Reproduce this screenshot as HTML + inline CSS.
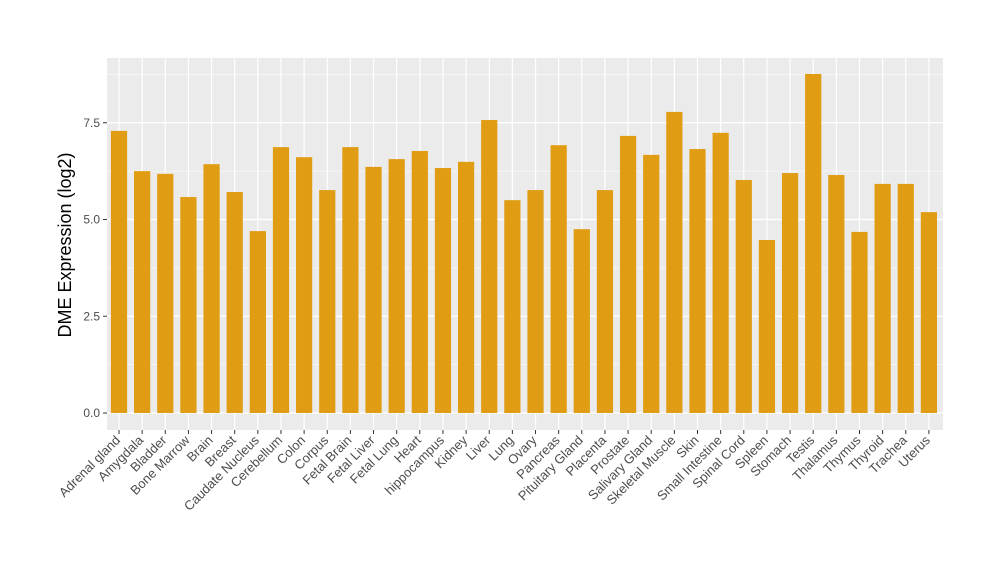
<!DOCTYPE html>
<html><head><meta charset="utf-8"><style>body{margin:0;background:#fff}svg{display:block}</style></head>
<body>
<svg id="s" width="1000" height="580" xmlns="http://www.w3.org/2000/svg" font-family="Liberation Sans, Arial, sans-serif"></svg>
<script>
const names=["Adrenal gland","Amygdala","Bladder","Bone Marrow","Brain","Breast","Caudate Nucleus","Cerebellum","Colon","Corpus","Fetal Brain","Fetal Liver","Fetal Lung","Heart","hippocampus","Kidney","Liver","Lung","Ovary","Pancreas","Pituitary Gland","Placenta","Prostate","Salivary Gland","Skeletal Muscle","Skin","Small Intestine","Spinal Cord","Spleen","Stomach","Testis","Thalamus","Thymus","Thyroid","Trachea","Uterus"];
const vals=[7.29,6.25,6.18,5.58,6.43,5.71,4.70,6.87,6.61,5.76,6.87,6.36,6.56,6.77,6.33,6.49,7.57,5.50,5.76,6.92,4.75,5.76,7.16,6.67,7.78,6.82,7.24,6.02,4.47,6.20,8.76,6.15,4.68,5.92,5.92,5.19];
const L=107,R=943,T=58,B=430,y0=413,k=38.7,step=23.14,c0=119;
let h=`<rect x="${L}" y="${T}" width="${R-L}" height="${B-T}" fill="#ebebeb"/>`;
for(let v=1.25;v<9;v+=2.5){const y=y0-v*k;if(y>T)h+=`<line x1="${L}" x2="${R}" y1="${y}" y2="${y}" stroke="#fff" stroke-width="0.6"/>`;}
for(let v=0;v<=7.5;v+=2.5){const y=y0-v*k;h+=`<line x1="${L}" x2="${R}" y1="${y}" y2="${y}" stroke="#fff" stroke-width="1.2"/><line x1="${L-4}" x2="${L}" y1="${y}" y2="${y}" stroke="#333"/><text x="${L-7}" y="${y+4}" font-size="12" fill="#4d4d4d" text-anchor="end">${v.toFixed(1)}</text>`;}
names.forEach((n,i)=>{const c=c0+i*step;h+=`<line x1="${c}" x2="${c}" y1="${T}" y2="${B}" stroke="#fff" stroke-width="1.2"/>`;});
names.forEach((n,i)=>{const c=c0+i*step,y=y0-vals[i]*k;h+=`<rect x="${c-8.1}" y="${y}" width="16.2" height="${y0-y}" fill="#e09c12"/><line x1="${c}" x2="${c}" y1="${B}" y2="${B+4}" stroke="#333"/><text transform="translate(${c+2},${B+11}) rotate(-45)" font-size="13" fill="#4d4d4d" text-anchor="end">${n}</text>`;});
h+=`<text transform="translate(71,245) rotate(-90)" font-size="18" text-anchor="middle" fill="#000">DME Expression (log2)</text>`;
document.getElementById('s').innerHTML=h;
</script>
</body></html>
